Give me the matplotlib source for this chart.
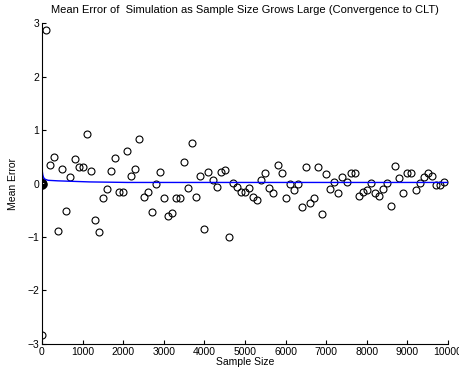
import matplotlib
matplotlib.use('Agg')
import matplotlib.pyplot as plt

# sample sizes used in the simulation (1, 101, 201, ..., 9901)
sample_size = list(range(1, 10001, 100))

# mean error for each sample size
mean_error = [
    -2.83, 2.87, 0.35, 0.50, -0.89, 0.27, -0.51, 0.12, 0.46, 0.31,
    0.31, 0.93, 0.23, -0.68, -0.91, -0.27, -0.10, 0.23, 0.48, -0.15,
    -0.16, 0.61, 0.14, 0.28, 0.83, -0.25, -0.16, -0.53, 0.00, 0.21,
    -0.28, -0.61, -0.55, -0.28, -0.27, 0.40, -0.08, 0.76, -0.25, 0.14,
    -0.86, 0.21, 0.07, -0.06, 0.21, 0.25, -1.00, 0.01, -0.07, -0.15,
    -0.15, -0.08, -0.25, -0.31, 0.06, 0.19, -0.08, -0.17, 0.35, 0.19,
    -0.28, -0.01, -0.12, -0.01, -0.44, 0.31, -0.36, -0.27, 0.31, -0.57,
    0.18, -0.11, 0.02, -0.18, 0.12, 0.02, 0.19, 0.19, -0.23, -0.15,
    -0.13, 0.01, -0.18, -0.23, -0.10, 0.01, -0.42, 0.33, 0.10, -0.18,
    0.20, 0.20, -0.13, 0.01, 0.12, 0.20, 0.14, -0.03, -0.03, 0.03,
]

# the cluster of points right at the origin
small_size = [1, 5, 10, 20]
small_error = [0.02, -0.02, 0.01, 0.0]

# running mean error (blue curve)
curve_size = [1, 5, 20, 40, 75, 150, 390, 1170, 2110, 5000, 10000]
curve_error = [0.31, 0.24, 0.16, 0.11, 0.08, 0.06, 0.05, 0.03, 0.02, 0.02, 0.02]

plt.rcParams['font.family'] = ['Liberation Sans', 'DejaVu Sans']

fig = plt.figure(figsize=(4.59, 3.73), dpi=100)
ax = fig.add_axes([0.0915, 0.078, 0.8845, 0.86])

ax.plot(sample_size, mean_error, 'o', mfc='none', mec='black', ms=5, mew=0.8)
ax.plot(small_size, small_error, 'o', mfc='none', mec='black', ms=5, mew=1.2)
ax.plot(curve_size, curve_error, '-', color='#0000ff', lw=1)

ax.set_xlim(0, 10000)
ax.set_ylim(-3, 3)
ax.set_xticks(range(0, 10001, 1000))
ax.set_yticks(range(-3, 4))
ax.spines['top'].set_visible(False)
ax.spines['right'].set_visible(False)
ax.tick_params(direction='in', length=3, labelsize=7.5, pad=2)

ax.set_title('Mean Error of  Simulation as Sample Size Grows Large (Convergence to CLT)',
             fontsize=8, pad=7)
ax.set_xlabel('Sample Size', fontsize=7.5, labelpad=0)
ax.set_ylabel('Mean Error', fontsize=7.5, labelpad=7)

fig.savefig('out.png', dpi=100)
